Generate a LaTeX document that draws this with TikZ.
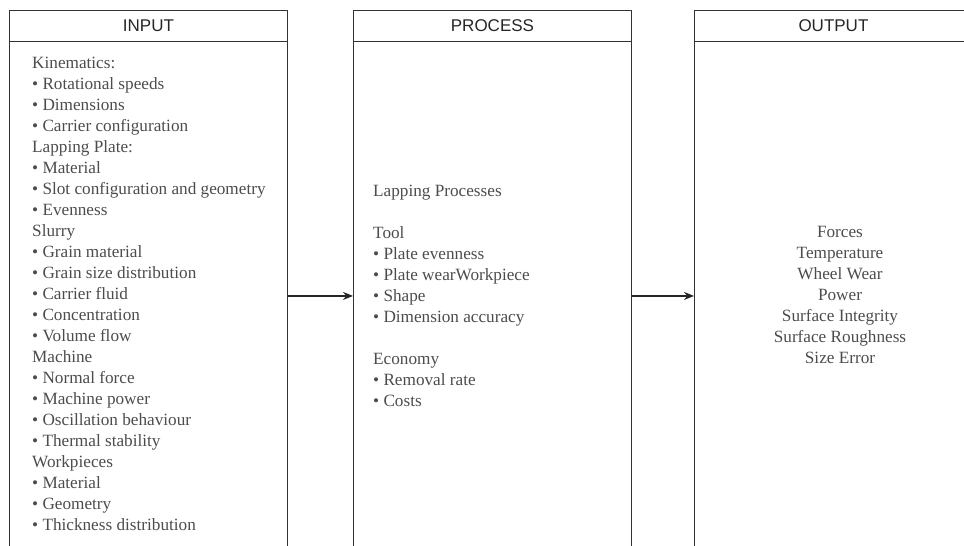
\documentclass[tikz,border=0pt]{standalone}
\usepackage{fontspec}
\setmainfont{Liberation Serif}
\newfontfamily\headfont{Liberation Sans}
\usetikzlibrary{positioning,arrows.meta}

\tikzset{
  head/.style={draw=black!80, line width=0.9pt, minimum width=278pt, minimum height=31pt, anchor=north west, inner sep=0pt, text=black!85, font=\headfont\fontsize{17}{19}\selectfont},
  panel/.style={draw=black!80, line width=0.9pt, minimum width=278pt, minimum height=509pt, anchor=north west, inner sep=0pt},
  items/.style={inner sep=0pt, text=black!70, font=\fontsize{17.2}{21}\selectfont},
  flow/.style={-{Stealth[length=10pt,width=8pt]}, line width=1.6pt, black!85}
}

\begin{document}
\begin{tikzpicture}[x=1pt, y=-1pt]
\useasboundingbox (0,0) rectangle (964,546);

% Input column
\node[head] (inhead) at (9,10) {INPUT};
\node[panel] (inbox) at (9,41) {};
\node[items, align=left, anchor=north west] (inlist) at (32,57) {Kinematics:\\
  \textbullet\ Rotational speeds\\
  \textbullet\ Dimensions\\
  \textbullet\ Carrier configuration\\
  Lapping Plate:\\
  \textbullet\ Material\\
  \textbullet\ Slot configuration and geometry\\
  \textbullet\ Evenness\\
  Slurry\\
  \textbullet\ Grain material\\
  \textbullet\ Grain size distribution\\
  \textbullet\ Carrier fluid\\
  \textbullet\ Concentration\\
  \textbullet\ Volume flow\\
  Machine\\
  \textbullet\ Normal force\\
  \textbullet\ Machine power\\
  \textbullet\ Oscillation behaviour\\
  \textbullet\ Thermal stability\\
  Workpieces\\
  \textbullet\ Material\\
  \textbullet\ Geometry\\
  \textbullet\ Thickness distribution};

% Process column
\node[head] (prochead) at (353,10) {PROCESS};
\node[panel] (procbox) at (353,41) {};
\node[items, align=left, anchor=north west] (proclist) at (373,185) {Lapping Processes\\[21pt]
  Tool\\
  \textbullet\ Plate evenness\\
  \textbullet\ Plate wearWorkpiece\\
  \textbullet\ Shape\\
  \textbullet\ Dimension accuracy\\[21pt]
  Economy\\
  \textbullet\ Removal rate\\
  \textbullet\ Costs};

% Output column
\node[head] (outhead) at (694,10) {OUTPUT};
\node[panel] (outbox) at (694,41) {};
\node[items, align=center, anchor=north] (outlist) at (840,226) {Forces\\
  Temperature\\
  Wheel Wear\\
  Power\\
  Surface Integrity\\
  Surface Roughness\\
  Size Error};

% Arrows
\draw[flow] (inbox) -- (procbox);
\draw[flow] (procbox) -- (outbox);

\end{tikzpicture}
\end{document}
